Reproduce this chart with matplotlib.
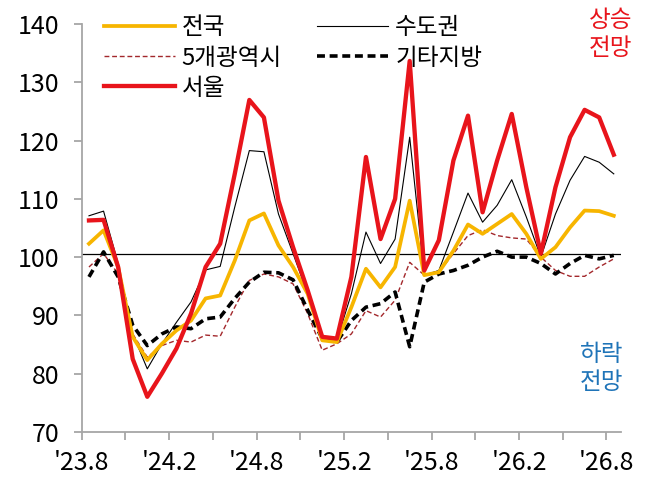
import numpy as np
import matplotlib
matplotlib.use('Agg')
import matplotlib.pyplot as plt

plt.rcParams['font.family'] = ['Noto Sans CJK KR', 'DejaVu Sans']

# monthly survey index, '23.8 ~ '26.8
months = ["'23.8", "'23.9", "'23.10", "'23.11", "'23.12", "'24.1", "'24.2", "'24.3", "'24.4",
          "'24.5", "'24.6", "'24.7", "'24.8", "'24.9", "'24.10", "'24.11", "'24.12", "'25.1",
          "'25.2", "'25.3", "'25.4", "'25.5", "'25.6", "'25.7", "'25.8", "'25.9", "'25.10",
          "'25.11", "'25.12", "'26.1", "'26.2", "'26.3", "'26.4", "'26.5", "'26.6", "'26.7", "'26.8"]

national = [102.3, 104.6, 98.3, 86.3, 82.3, 85.1, 87.4, 89.1, 92.9, 93.4, 99.4, 106.3, 107.5,
            102.0, 98.3, 93.7, 85.7, 85.4, 91.4, 98.0, 94.8, 98.3, 109.7, 96.9, 97.4, 101.1,
            105.6, 104.0, 105.7, 107.4, 104.0, 99.7, 101.7, 105.1, 108.0, 107.9, 107.1]
capital = [107.1, 107.9, 98.9, 86.8, 80.8, 85.1, 88.8, 92.3, 97.8, 98.4, 108.6, 118.3, 118.1,
           107.4, 100.6, 93.7, 86.0, 85.7, 93.7, 104.3, 98.9, 103.1, 120.6, 96.9, 97.7, 104.3,
           111.0, 106.0, 108.9, 113.3, 106.9, 100.0, 107.4, 113.2, 117.3, 116.3, 114.3]
metro5 = [98.3, 100.6, 97.1, 86.8, 82.8, 84.8, 85.7, 85.4, 86.6, 86.4, 91.4, 96.0, 97.1,
          96.6, 95.4, 90.3, 84.0, 85.1, 86.8, 90.8, 89.7, 92.6, 99.1, 96.9, 97.4, 100.6,
          103.7, 104.7, 103.7, 103.3, 103.1, 100.0, 97.7, 96.7, 96.7, 98.3, 99.7]
others = [96.6, 100.9, 96.6, 88.3, 84.8, 86.8, 88.0, 87.7, 89.4, 89.7, 92.9, 95.7, 97.4,
          97.3, 96.1, 90.9, 86.0, 85.4, 89.1, 91.4, 92.0, 94.0, 84.6, 95.7, 97.1, 97.7,
          98.6, 100.0, 101.0, 100.0, 100.0, 98.9, 97.1, 98.9, 100.3, 99.7, 100.3]
seoul = [106.3, 106.4, 98.3, 82.5, 76.0, 80.0, 84.3, 90.3, 98.3, 102.3, 114.3, 127.0, 124.0,
         109.7, 101.7, 94.3, 86.3, 86.0, 96.6, 117.2, 103.1, 110.0, 133.7, 97.7, 102.9, 116.6,
         124.3, 107.7, 116.6, 124.6, 112.0, 100.6, 112.0, 120.6, 125.3, 124.0, 117.6]

baseline = 100.5
tick_step = 3
label_step = 6

x = np.arange(len(months)) + 0.5

fig = plt.figure(figsize=(6.53, 4.83), dpi=100)
ax = fig.add_axes([0.1251, 0.1062, 0.826, 0.8435])

ax.axhline(baseline, color='black', lw=0.9, zorder=1)
l_cap, = ax.plot(x, capital, color='black', lw=0.8, zorder=2, label='수도권')
l_met, = ax.plot(x, metro5, color='#a3282c', lw=1.0, ls=(0, (3.5, 2)), zorder=3, label='5개광역시')
l_oth, = ax.plot(x, others, color='black', lw=2.6, ls=(0, (2.2, 1.3)), zorder=4, label='기타지방')
l_nat, = ax.plot(x, national, color='#f7b500', lw=2.7, zorder=5, label='전국')
l_seo, = ax.plot(x, seoul, color='#e8141b', lw=3.1, zorder=6, label='서울')

ax.set_xlim(0, len(months))
ax.set_ylim(70, 140)
ax.set_yticks(np.arange(70, 141, 10))
ticks = np.arange(0, len(months), tick_step)
ax.set_xticks(ticks)
ax.set_xticklabels([months[t] if t % label_step == 0 else '' for t in ticks])

for s in ['top', 'right']:
    ax.spines[s].set_visible(False)
for s in ['left', 'bottom']:
    ax.spines[s].set_color('#a6a6a6')
    ax.spines[s].set_linewidth(1.3)
ax.tick_params(axis='both', colors='#a6a6a6', length=6, width=1.3, labelsize=18, labelcolor='black')
ax.tick_params(axis='y', pad=10)
ax.tick_params(axis='x', pad=7)

leg = fig.legend(handles=[l_nat, l_met, l_seo, l_cap, l_oth], ncol=2, loc='upper left',
                 bbox_to_anchor=(0.130, 1.005), frameon=False, fontsize=17,
                 handlelength=3.0, handletextpad=0.3, columnspacing=1.5, labelspacing=0.3,
                 borderpad=0.3)

ax.text(0.968, 0.982, '상승\n전망', transform=fig.transFigure, ha='right', va='top',
        color='#e8141b', fontsize=17, linespacing=1.3)
ax.text(0.955, 0.29, '하락\n전망', transform=fig.transFigure, ha='right', va='top',
        color='#1f74b8', fontsize=17, linespacing=1.3)

fig.savefig('out.png', dpi=100)
